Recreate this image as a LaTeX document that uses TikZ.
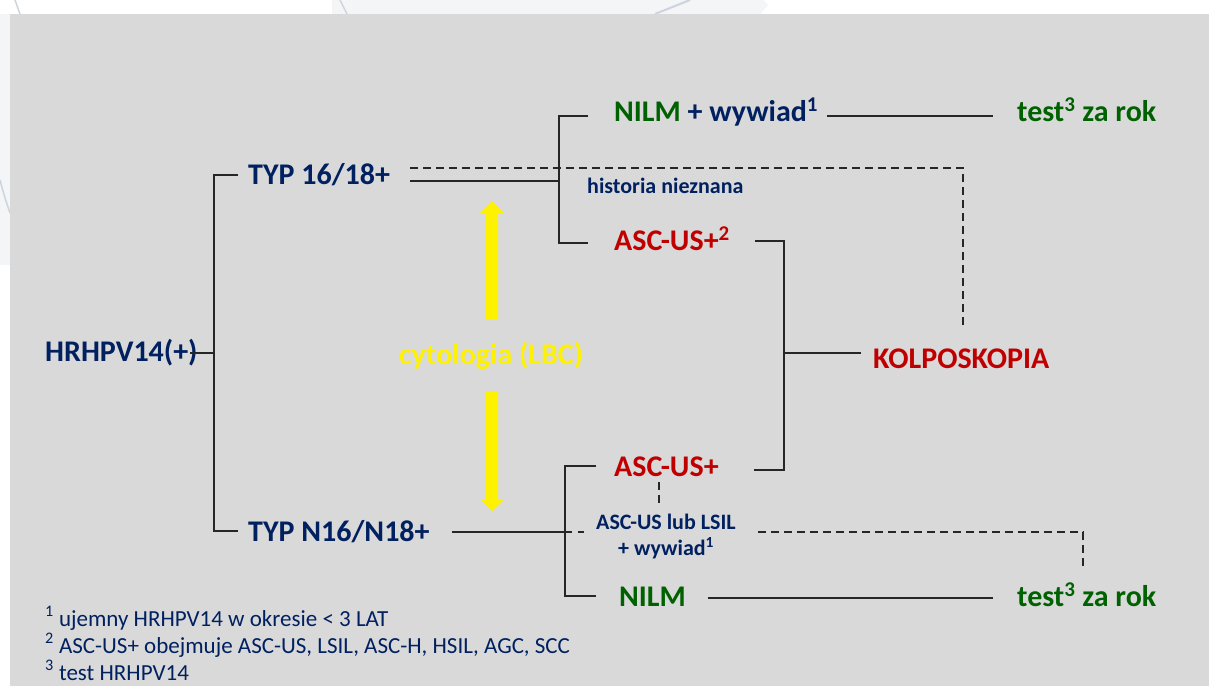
\documentclass[tikz,border=0pt]{standalone}
\usepackage{fontspec}
\setmainfont{Carlito}
\definecolor{bg}{HTML}{D9D9D9}
\definecolor{navy}{HTML}{002060}
\definecolor{dred}{HTML}{C00000}
\definecolor{dgreen}{HTML}{006100}
\definecolor{decofill}{HTML}{F3F5F7}
\definecolor{decoline}{HTML}{CCD5DD}
\definecolor{lncol}{HTML}{262626}
\tikzset{
  big/.style={font=\fontsize{30}{36}\selectfont\bfseries, inner sep=0pt, anchor=base west},
  small/.style={font=\fontsize{22}{26}\selectfont\bfseries, inner sep=0pt, anchor=base west, text=navy},
  foot/.style={font=\fontsize{23}{28}\selectfont, inner sep=0pt, anchor=base west, text=navy},
  ln/.style={line width=1.3pt, draw=lncol},
  dln/.style={ln, dash pattern=on 8pt off 5pt},
  yarrow/.style={fill=yellow, draw=none}
}
\begin{document}
\begin{tikzpicture}[x=1pt,y=-1pt]
\useasboundingbox (0,0) rectangle (1209,686);
\fill[white] (0,0) rectangle (1209,686);
% faint slide decorations
\fill[decofill] (332,0) -- (763,0) -- (768,5) -- (760,14) -- (332,14) -- cycle;
\draw[decoline, line width=1.5pt] (340,0) .. controls (343,6) .. (347,14);
\draw[decoline, line width=2pt] (655,14) -- (690,0);
\draw[decoline, line width=1.5pt] (15,0) -- (20,14);
\fill[decofill] (0,14) rectangle (10,265);
\draw[decoline, line width=1.5pt] (0,180) .. controls (4,195) .. (10,213);
% background panel
\fill[bg] (10,14) rectangle (1209,686);

% texts
\node[big, text=navy] (hr) at (45,361) {HRHPV14(+)};
\node[big, text=navy] (t16) at (248,184) {TYP 16/18+};
\node[big, text=navy] (tn16) at (248,541) {TYP N16/N18+};
\node[big] (nilmw) at (614,121) {\textcolor{dgreen}{NILM} \textcolor{navy}{+ wywiad\textsuperscript{1}}};
\node[big, text=dgreen] (test1) at (1017,121) {test\textsuperscript{3} za rok};
\node[small] (hist) at (587,193) {historia nieznana};
\node[big, text=dred] (asc1) at (614,250) {ASC-US+\textsuperscript{2}};
\node[big, text=yellow] (cyt) at (399,364) {cytologia (LBC)};
\node[big, text=dred] (kolp) at (873,368) {KOLPOSKOPIA};
\node[big, text=dred] (asc2) at (614,476) {ASC-US+};
\node[small] (lub) at (596,529) {ASC-US lub LSIL};
\node[small] (wyw) at (618,555) {+ wywiad\textsuperscript{1}};
\node[big, text=dgreen] (nilm2) at (619,606) {NILM};
\node[big, text=dgreen] (test2) at (1017,606) {test\textsuperscript{3} za rok};
\node[foot] (f1) at (45,626) {\textsuperscript{1} ujemny HRHPV14 w okresie < 3 LAT};
\node[foot] (f2) at (45,653) {\textsuperscript{2} ASC-US+ obejmuje ASC-US, LSIL, ASC-H, HSIL, AGC, SCC};
\node[foot] (f3) at (45,680) {\textsuperscript{3} test HRHPV14};

% joint coordinates
\coordinate (hrE) at (190,353);
\coordinate (mT) at (214,175);
\coordinate (mM) at (214,353);
\coordinate (mB) at (214,531);
\coordinate (t16W) at (238,175);
\coordinate (tn16W) at (238,531);
\coordinate (t16S) at (410,181);
\coordinate (t16D) at (410,168);
\coordinate (uT) at (559,116);
\coordinate (uM) at (559,181);
\coordinate (uB) at (559,243);
\coordinate (nilmwW) at (588,116);
\coordinate (asc1W) at (588,243);
\coordinate (dC) at (963,168);
\coordinate (dE) at (963,327);
\coordinate (nilmwE) at (827,116);
\coordinate (test1W) at (993,116);
\coordinate (asc1E) at (755,241);
\coordinate (rT) at (784,241);
\coordinate (rM) at (784,353);
\coordinate (rB) at (784,470);
\coordinate (asc2E) at (754,470);
\coordinate (kolpW) at (861,353);
\coordinate (tn16E) at (452,532);
\coordinate (lM) at (572,532);
\coordinate (lT) at (565,466);
\coordinate (lB) at (565,596);
\coordinate (asc2W) at (596,466);
\coordinate (nilm2W) at (596,596);
\coordinate (vd1) at (659,482);
\coordinate (vd2) at (659,506);
\coordinate (lubE) at (758,532);
\coordinate (dC2) at (1083,532);
\coordinate (dE2) at (1083,570);
\coordinate (nilm2E) at (708,598);
\coordinate (test2W) at (993,598);

% connectors
\draw[ln] (hrE) -- (mM);
\draw[ln] (t16W) -- (mT) -- (mB) -- (tn16W);
\draw[ln] (t16S) -- (uM);
\draw[ln] (nilmwW) -- (uT) -- (uB) -- (asc1W);
\draw[dln] (t16D) -- (dC) -- (dE);
\draw[ln] (nilmwE) -- (test1W);
\draw[ln] (asc1E) -- (rT) -- (rB) -- (asc2E);
\draw[ln] (rM) -- (kolpW);
\draw[ln] (tn16E) -- (lM);
\draw[ln] (578,532) -- (584,532);
\draw[ln] (asc2W) -- (lT) -- (lB) -- (nilm2W);
\draw[dln] (vd1) -- (vd2);
\draw[dln] (lubE) -- (dC2) -- (dE2);
\draw[ln] (nilm2E) -- (test2W);

% yellow arrows
\fill[yarrow] (486,319) -- (498,319) -- (498,213) -- (504,213) -- (492,201) -- (480,213) -- (486,213) -- cycle;
\fill[yarrow] (486,392) -- (498,392) -- (498,499) -- (504,499) -- (492,511) -- (480,499) -- (486,499) -- cycle;
\end{tikzpicture}
\end{document}
